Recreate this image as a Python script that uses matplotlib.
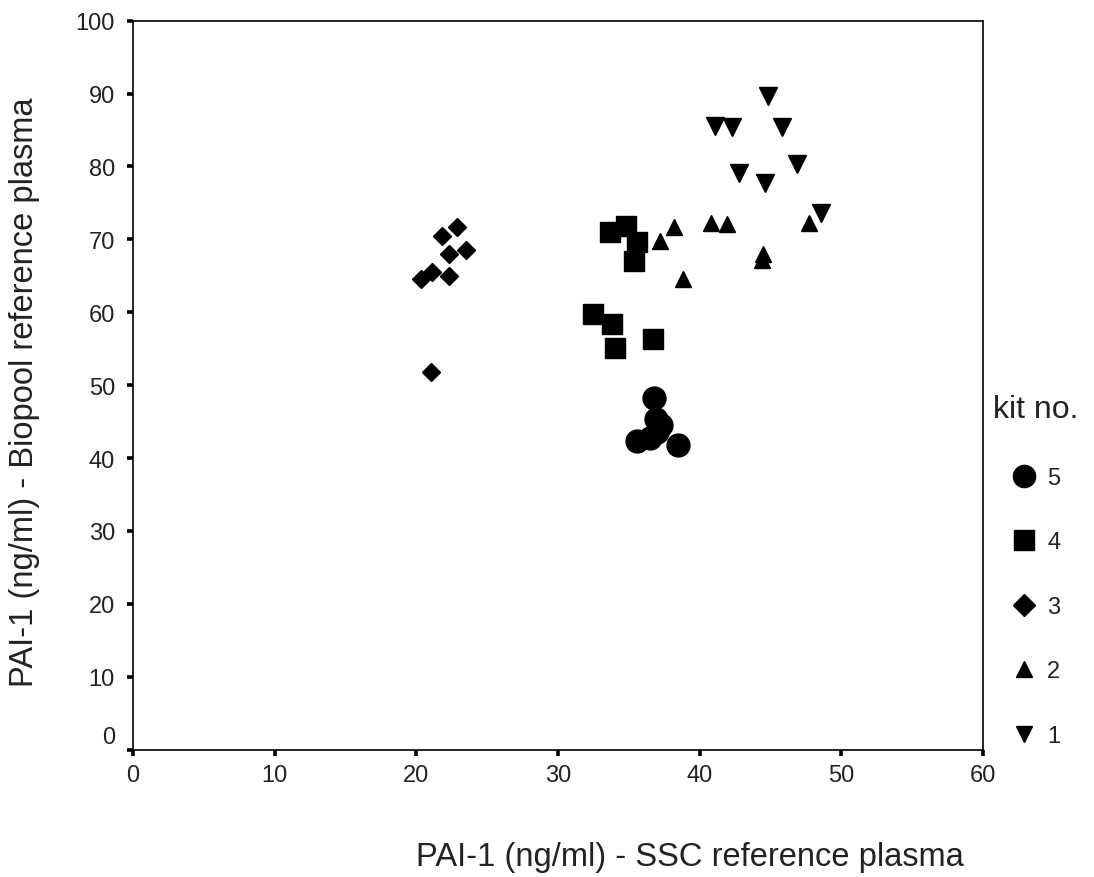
import numpy as np
import matplotlib
matplotlib.use('Agg')
from matplotlib import pyplot as plt
from matplotlib.lines import Line2D
from matplotlib.transforms import ScaledTranslation

plt.rcParams['font.family'] = ['Liberation Sans', 'DejaVu Sans']

# kit no. 1 (down triangles)
kit1_x = [44.8, 41.1, 42.3, 45.8, 46.9, 42.8, 44.6, 48.6]
kit1_y = [89.7, 85.6, 85.4, 85.4, 80.3, 79.1, 77.8, 73.6]
# kit no. 2 (up triangles)
kit2_x = [37.2, 38.2, 38.8, 40.8, 41.9, 44.5, 44.4, 47.7]
kit2_y = [69.8, 71.7, 64.5, 72.3, 72.1, 68.0, 67.2, 72.3]
# kit no. 3 (diamonds)
kit3_x = [20.3, 21.1, 21.8, 22.3, 22.3, 22.9, 23.5, 21.0]
kit3_y = [64.5, 65.5, 70.5, 65.0, 68.0, 71.7, 68.5, 51.8]
# kit no. 4 (squares)
kit4_x = [33.7, 34.8, 35.6, 35.4, 32.5, 33.8, 34.0, 36.7]
kit4_y = [71.0, 71.9, 69.6, 67.1, 59.8, 58.4, 55.1, 56.4]
# kit no. 5 (circles)
kit5_x = [36.8, 36.9, 37.3, 35.6, 36.5, 37.0, 38.5]
kit5_y = [48.3, 45.4, 44.5, 42.4, 42.7, 43.6, 41.8]

xticks = [0, 10, 20, 30, 40, 50, 60]
yticks = [0, 10, 20, 30, 40, 50, 60, 70, 80, 90, 100]

fig = plt.figure(figsize=(10.94, 8.78), dpi=100)
ax = fig.add_axes([0.1216, 0.145, 0.7769, 0.8303])

txt_col = '#222222'
ax.plot(kit1_x, kit1_y, 'v', color='k', ms=13, ls='none')
ax.plot(kit2_x, kit2_y, '^', color='k', ms=11.5, ls='none')
ax.plot(kit3_x, kit3_y, 'D', color='k', ms=9.5, ls='none')
ax.plot(kit4_x, kit4_y, 's', color='k', ms=14, ls='none')
ax.plot(kit5_x, kit5_y, 'o', color='k', ms=16.5, ls='none')

ax.set_xlim(0, 60)
ax.set_ylim(0, 100)
ax.set_xticks(xticks)
ax.set_yticks(yticks)
ax.set_xticklabels([str(v) for v in xticks])
ax.set_yticklabels([str(v) for v in yticks])
ax.tick_params(direction='out', length=4, width=2.6, color='k',
               labelsize=17, labelcolor=txt_col)
ax.tick_params(axis='x', pad=6)
ax.tick_params(axis='y', pad=9)
for s in ax.spines.values():
    s.set_linewidth(1.2)

# lift the "0" y label clear of the x axis
t0 = ax.yaxis.get_major_ticks()[0]
t0.label1.set_transform(t0.label1.get_transform() +
                        ScaledTranslation(0, 11 / 72, fig.dpi_scale_trans))

fig.text(690 / 1094, 1 - 858 / 878, 'PAI-1 (ng/ml) - SSC reference plasma',
         ha='center', va='center', fontsize=23.5, color=txt_col)
fig.text(25 / 1094, 1 - 392 / 878, 'PAI-1 (ng/ml) - Biopool reference plasma',
         ha='center', va='center', rotation=90, fontsize=23.5, color=txt_col)

handles = [
    Line2D([], [], marker='o', color='k', ls='none', ms=16),
    Line2D([], [], marker='s', color='k', ls='none', ms=14),
    Line2D([], [], marker='D', color='k', ls='none', ms=11),
    Line2D([], [], marker='^', color='k', ls='none', ms=12),
    Line2D([], [], marker='v', color='k', ls='none', ms=11.5),
]
labels = ['5', '4', '3', '2', '1']
leg = fig.legend(handles, labels, title='kit no.', loc='upper left',
                 bbox_to_anchor=(984 / 1094, 1 - 386 / 878), frameon=False,
                 fontsize=17, title_fontsize=23, labelspacing=1.8,
                 handlelength=1.0, handletextpad=0.5, borderaxespad=0)
for t in leg.get_texts():
    t.set_color(txt_col)
leg.get_title().set_color(txt_col)

fig.savefig('out.png', dpi=100)
